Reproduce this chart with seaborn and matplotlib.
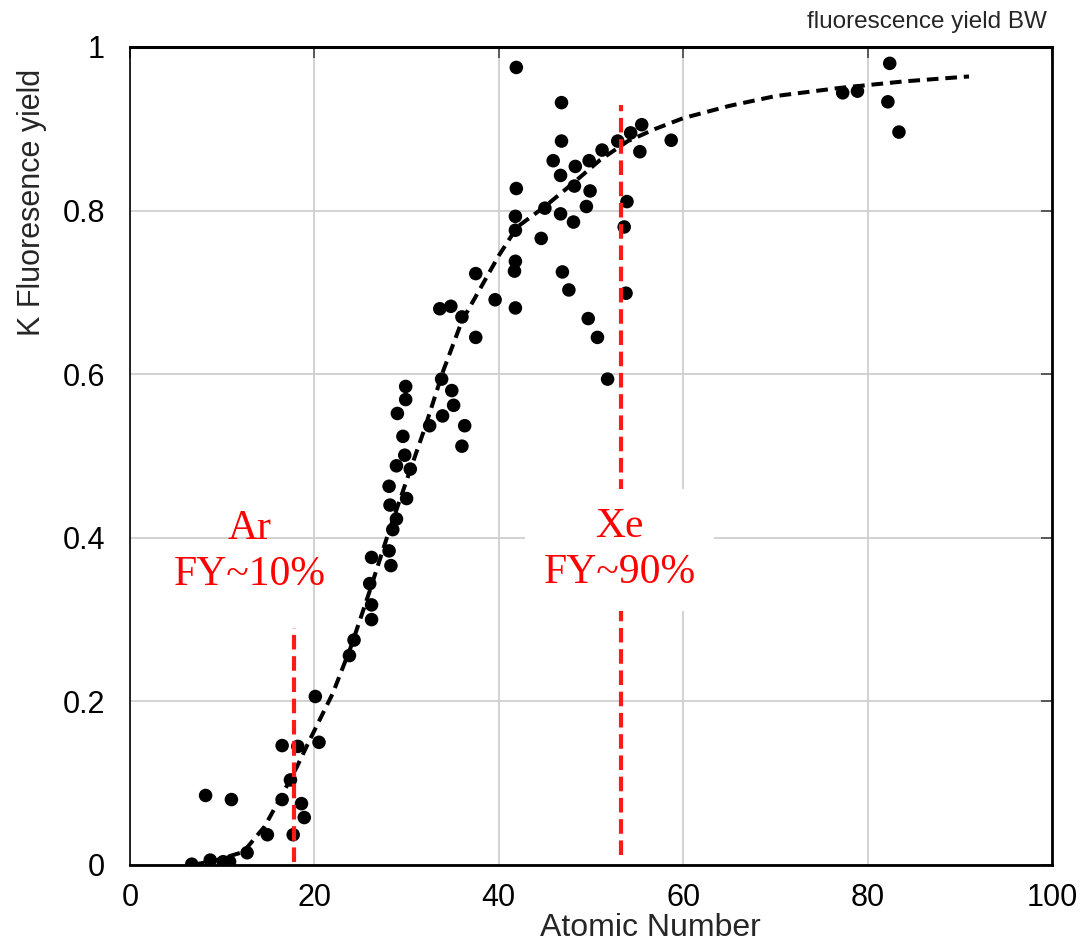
import matplotlib
matplotlib.use("Agg")
import matplotlib.pyplot as plt
import seaborn as sns
import pandas as pd

# ---- data ----
atomic_number = [6.7, 8.2, 11.0, 8.7, 10.1, 10.8, 12.7, 14.9, 17.7,
                 16.5, 17.4, 16.5, 18.2, 18.6, 18.9, 20.1, 20.5,
                 23.8, 24.3, 26.2, 26.2, 26.0, 26.2, 28.1, 28.3, 28.5, 28.9,
                 28.2, 28.1, 30.0, 30.4, 28.9, 29.8, 29.6, 29.0, 29.9, 29.9,
                 32.5, 33.9, 35.1, 34.9, 33.8, 36.3, 36.0, 33.6, 34.8, 36.0,
                 37.5, 37.5, 39.6, 41.8, 41.7, 41.8, 41.8, 41.8, 41.9, 41.9,
                 44.6, 45.0, 45.9, 46.7, 46.7, 46.8, 46.8, 46.9, 47.6, 48.1,
                 48.2, 48.3, 49.5, 49.9, 49.8, 49.7, 50.7, 51.8, 51.2, 52.9,
                 53.6, 53.8, 53.9, 54.3, 55.5, 55.3, 58.7, 77.3, 78.9, 82.4,
                 82.2, 83.4]
fluor_yield = [0.001, 0.085, 0.080, 0.006, 0.004, 0.004, 0.015, 0.037, 0.037,
               0.080, 0.104, 0.146, 0.145, 0.075, 0.058, 0.206, 0.150,
               0.256, 0.275, 0.300, 0.318, 0.344, 0.376, 0.384, 0.366, 0.410, 0.423,
               0.440, 0.463, 0.448, 0.484, 0.488, 0.501, 0.524, 0.552, 0.569, 0.585,
               0.537, 0.549, 0.562, 0.580, 0.594, 0.537, 0.512, 0.680, 0.683, 0.670,
               0.645, 0.723, 0.691, 0.681, 0.726, 0.738, 0.776, 0.793, 0.827, 0.975,
               0.766, 0.803, 0.861, 0.843, 0.796, 0.885, 0.932, 0.725, 0.703, 0.786,
               0.830, 0.854, 0.805, 0.824, 0.861, 0.668, 0.645, 0.594, 0.874, 0.885,
               0.780, 0.699, 0.811, 0.895, 0.905, 0.872, 0.886, 0.944, 0.946, 0.980,
               0.933, 0.896]

fit_z = [6.8, 9.4, 12.3, 14.6, 16.6, 18.1, 19.5, 22.0, 24.0, 26.0, 28.0, 30.0,
         32.0, 34.0, 36.0, 38.0, 40.0, 42.0, 45.0, 48.0, 51.0, 54.0, 57.0, 60.0,
         65.0, 70.0, 77.0, 84.0, 91.0]
fit_fy = [0.0, 0.006, 0.016, 0.047, 0.088, 0.120, 0.153, 0.210, 0.268, 0.335,
          0.405, 0.470, 0.535, 0.605, 0.665, 0.705, 0.745, 0.780, 0.805, 0.833,
          0.862, 0.885, 0.900, 0.913, 0.928, 0.940, 0.950, 0.958, 0.964]

ar_z = [17.8, 17.8]
ar_fy = [0.004, 0.290]
xe_z = [53.3, 53.3]
xe_fy = [0.012, 0.929]

x_ticks = [0, 20, 40, 60, 80, 100]
y_ticks = [0, 0.2, 0.4, 0.6, 0.8, 1.0]
y_tick_labels = ["0", "0.2", "0.4", "0.6", "0.8", "1"]

sns.set_style("white")
plt.rcParams['font.family'] = ['Liberation Sans', 'DejaVu Sans']

fig = plt.figure(figsize=(10.84, 9.43), dpi=100)
ax = fig.add_axes([130/1084, 1 - 865/943, (1052-130)/1084, (865-47)/943])

pts = pd.DataFrame({"z": atomic_number, "fy": fluor_yield})
fit = pd.DataFrame({"z": fit_z, "fy": fit_fy})

sns.lineplot(data=fit, x="z", y="fy", color="black", lw=2.9, ax=ax,
             linestyle="--", zorder=3, sort=True, estimator=None)
ax.lines[-1].set_dashes((2.9, 1.7))
sns.scatterplot(data=pts, x="z", y="fy", color="black", s=95,
                edgecolor="none", ax=ax, zorder=4)

ax.plot(ar_z, ar_fy, color="#ff1a1a", lw=3.0, ls=(0, (3.5, 1.6)), zorder=5)
ax.plot(xe_z, xe_fy, color="#ff1a1a", lw=3.0, ls=(0, (3.5, 1.6)), zorder=5)

serif = ['Liberation Serif', 'DejaVu Serif']
ax.text(13.0, 0.383, "Ar\nFY~10%", color="red", fontsize=30, family=serif,
        ha="center", va="center", linespacing=1.25, zorder=6)
ax.text(53.1, 0.385, "Xe\nFY~90%", color="red", fontsize=30, family=serif,
        ha="center", va="center", linespacing=1.25, zorder=6,
        bbox=dict(boxstyle="square,pad=0.45", fc="white", ec="none"))

ax.set_xlim(0, 100)
ax.set_ylim(0, 1)
ax.set_xticks(x_ticks)
ax.set_yticks(y_ticks)
ax.set_yticklabels(y_tick_labels)
ax.grid(True, color="#cfcfcf", lw=1.3, zorder=0)
ax.set_axisbelow(True)
ax.tick_params(axis="both", direction="in", length=8, width=1.2, color="#444444",
               labelsize=22, top=True, right=True, labelcolor="black")
ax.tick_params(axis="x", pad=13)
ax.tick_params(axis="y", pad=18)
for side, w in [("top", 2.2), ("right", 2.0), ("bottom", 2.0), ("left", 1.2)]:
    ax.spines[side].set_visible(True)
    ax.spines[side].set_color("black")
    ax.spines[side].set_linewidth(w)

ax.set_xlabel("Atomic Number", fontsize=23)
ax.xaxis.set_label_coords(0.564, -0.077)
ax.xaxis.label.set_va("center")
ax.set_ylabel("K Fluoresence yield", fontsize=22)
ax.yaxis.set_label_coords(-0.106, 0.81)
ax.yaxis.label.set_va("center")
fig.text(1047/1084, 1 - 22/943, "fluorescence yield BW", ha="right", va="center",
         fontsize=17.5)

fig.savefig("out.png", dpi=100)
